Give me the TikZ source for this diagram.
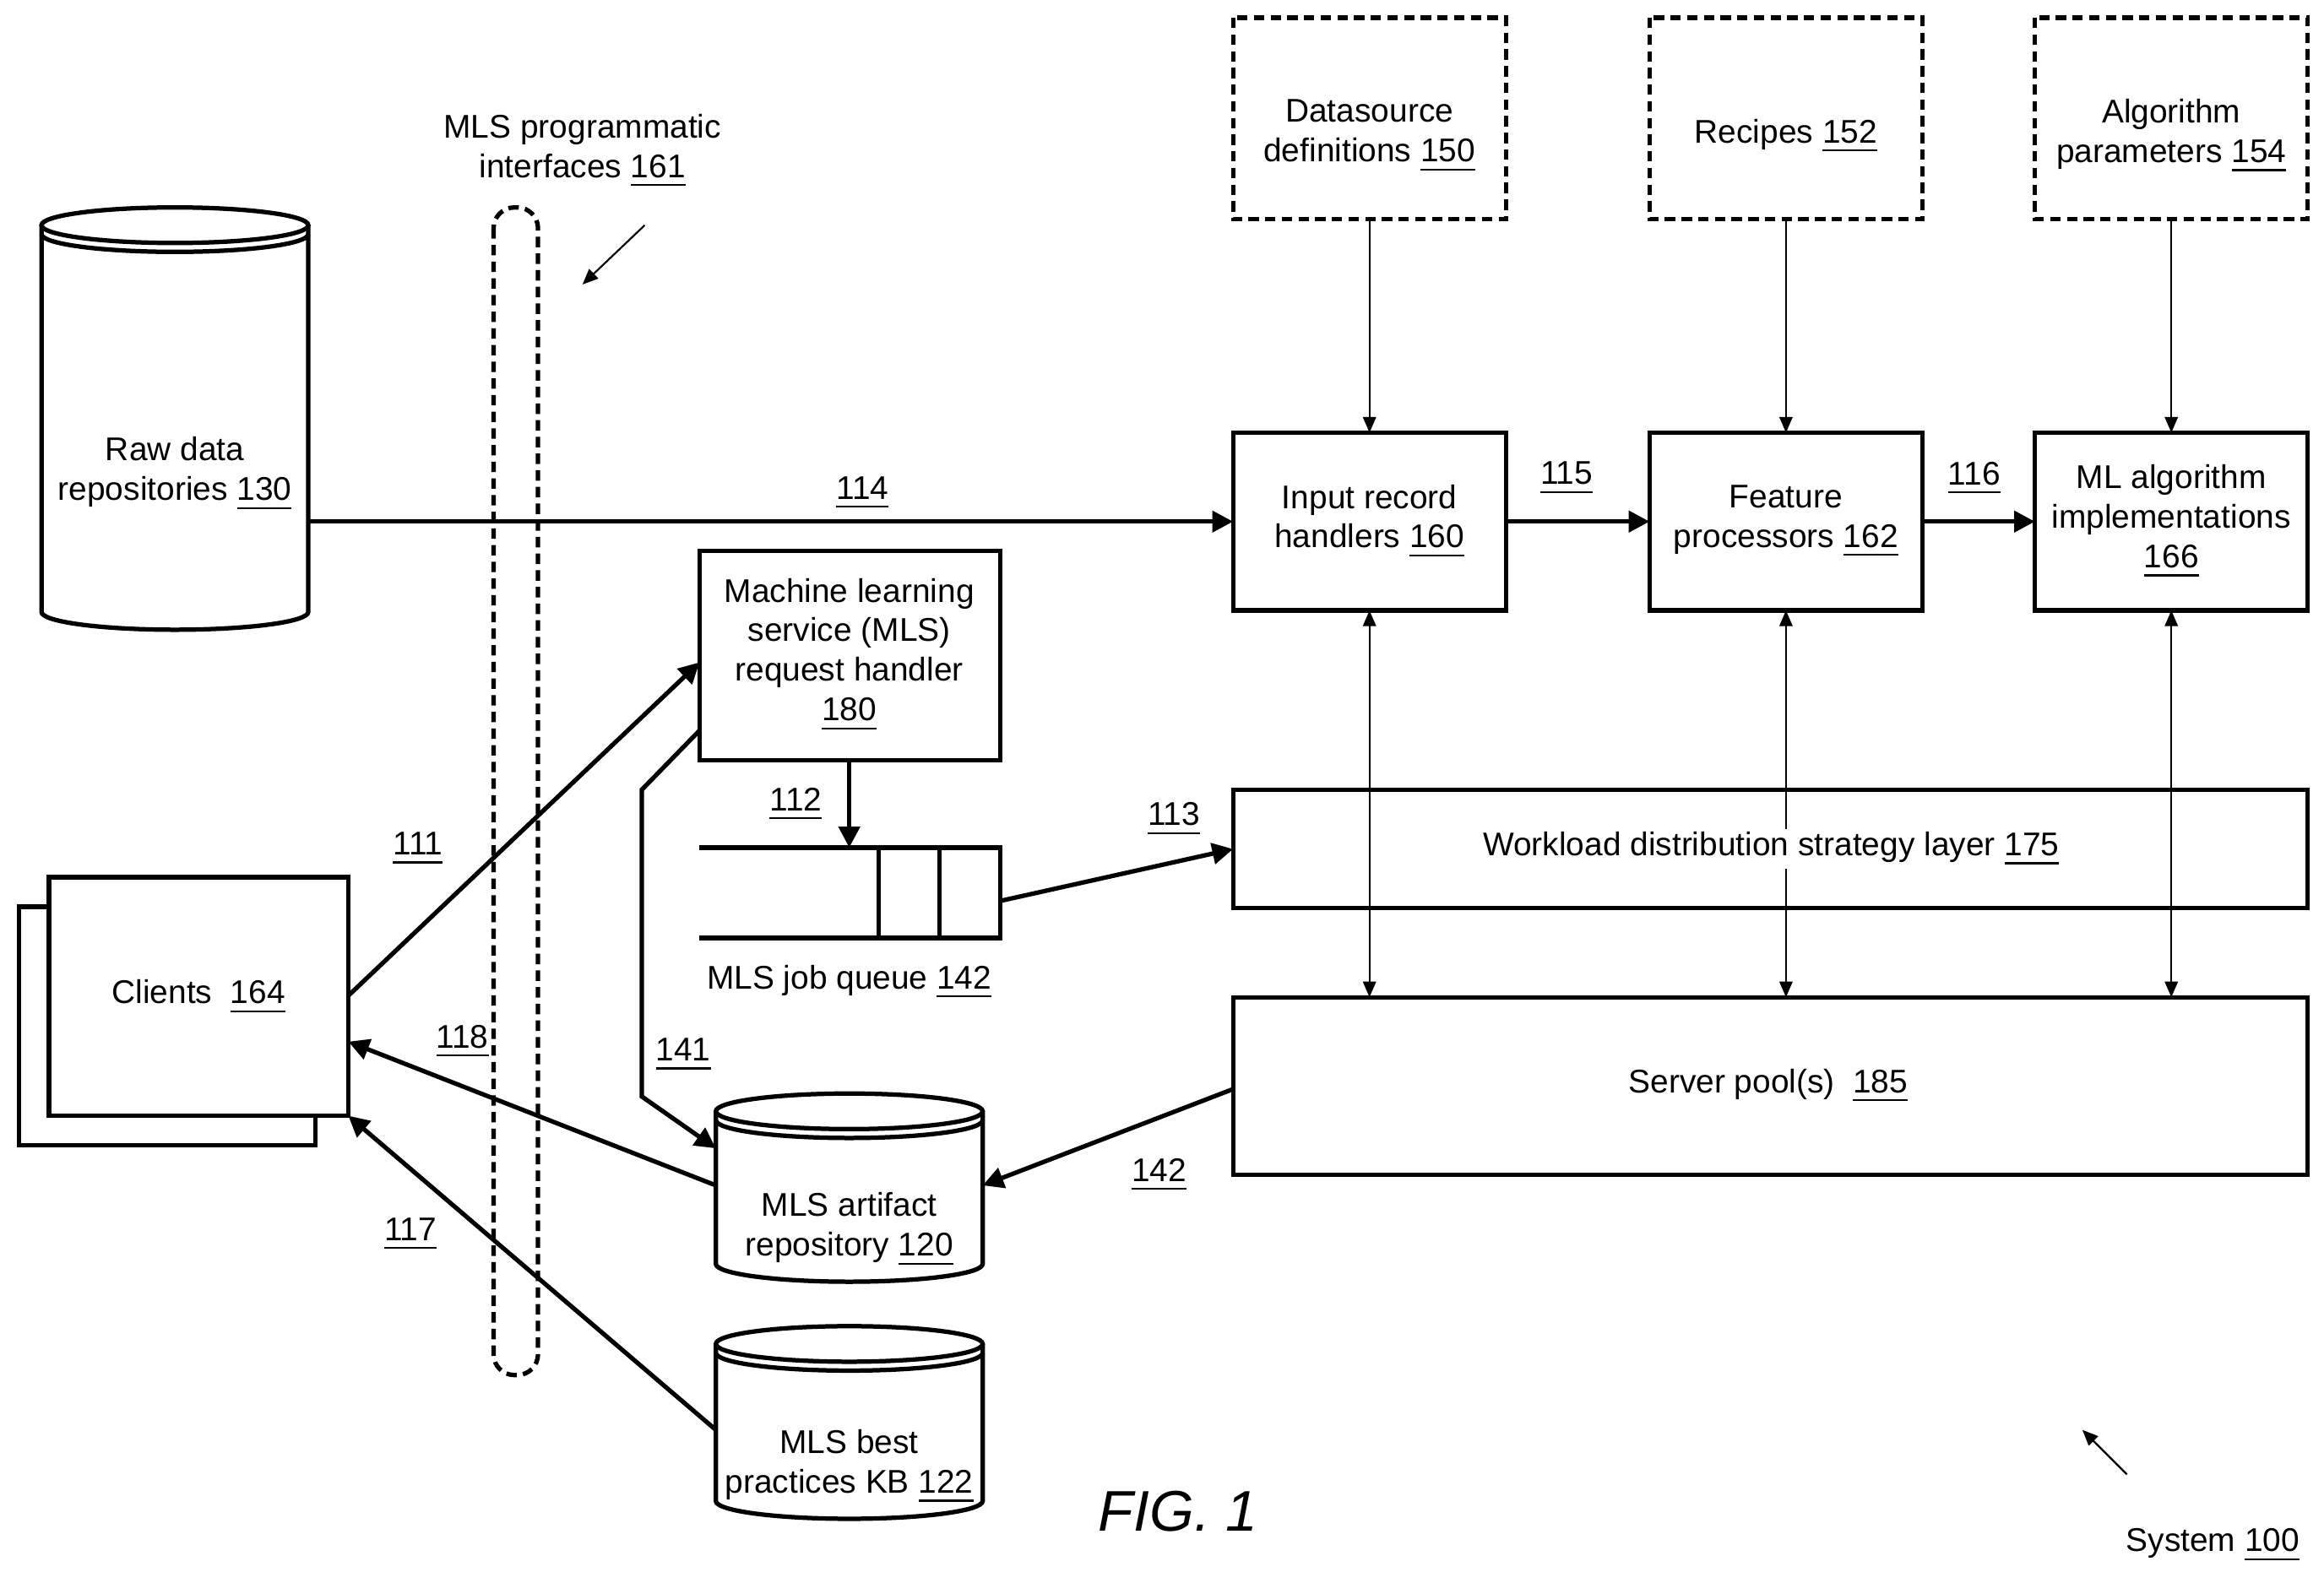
\documentclass[tikz,border=0pt]{standalone}
\usepackage{fontspec}
\setmainfont{Liberation Sans}
\usetikzlibrary{arrows.meta}
\newcommand{\un}[1]{\underline{#1}}
\begin{document}
\begin{tikzpicture}[x=0.01cm,y=-0.01cm,
 every node/.style={font=\fontsize{6.3}{7.6}\selectfont,align=center,inner sep=0pt},
 box/.style={draw,line width=0.85pt},
 dbox/.style={draw,line width=0.85pt,dash pattern=on 2pt off 1.2pt},
 ar/.style={line width=0.85pt,-{Triangle[length=4pt,width=4pt]}},
 thin2/.style={line width=0.35pt,{Triangle[length=3pt,width=2.5pt]}-{Triangle[length=3pt,width=2.5pt]}},
 thin1/.style={line width=0.35pt,-{Triangle[length=3pt,width=2.5pt]}}]
\useasboundingbox (0,0) rectangle (1568,1068);
% cylinders
\def\cyl#1#2#3#4{% x1 x2 ytop ybot
 \pgfmathsetmacro\cx{(#1+#2)/2}\pgfmathsetmacro\rx{(#2-#1)/2}
 \draw[line width=0.85pt,fill=white] (#1,#3) -- (#1,#4) arc[start angle=180,end angle=360,x radius=\rx,y radius=-12] -- (#2,#3);
 \draw[line width=0.85pt] (\cx,#3) ellipse[x radius=\rx,y radius=12];
 \draw[line width=0.85pt] (#1,#3+6) arc[start angle=180,end angle=360,x radius=\rx,y radius=-12];}
\cyl{28}{208}{152}{413}
\node (raw) at (118,320) {Raw data\\repositories \un{130}};
\cyl{483}{663}{750}{853}
\node (art) at (573,830) {MLS artifact\\repository \un{120}};
\cyl{483}{663}{907}{1013}
\node (kb) at (573,990) {MLS best\\practices KB \un{122}};
% interfaces
\draw[dbox,rounded corners=4pt] (333,140) rectangle (363,928);
\node at (393,102) {MLS programmatic\\interfaces \un{161}};
\draw[thin1] (435,152) -- (393,192);
% clients
\draw[box,fill=white] (13,612) rectangle (213,773);
\draw[box,fill=white] (33,592) rectangle (235,753);
\node (cl) at (134,673) {Clients\ \ \un{164}};
% handler
\draw[box] (472,372) rectangle (675,513);
\node (h) at (573,442) {Machine learning\\service (MLS)\\request handler\\\un{180}};
% queue
\draw[line width=0.85pt] (472,572) -- (675,572) (472,633) -- (675,633);
\draw[box] (593,572) rectangle (675,633) (634,572) -- (634,633);
\node (q) at (573,663) {MLS job queue \un{142}};
% top boxes
\foreach \x/\n/\t/\d in {832/in/Input record\\handlers \un{160}/Datasource\\definitions \un{150},
 1113/fp/Feature\\processors \un{162}/Recipes \un{152},
 1373/ml/ML algorithm\\implementations\\\un{166}/Algorithm\\parameters \un{154}}{
 \pgfmathsetmacro\xe{\x+184}\pgfmathsetmacro\xc{\x+92}
 \draw[box] (\x,292) rectangle (\xe,412);
 \node (\n) at (\xc,352) {\t};
 \draw[dbox] (\x,12) rectangle (\xe,148);
 \node at (\xc,92) {\d};
 \draw[thin1] (\xc,148) -- (\xc,292);
 \draw[thin2] (\xc,412) -- (\xc,673);
}
\draw[box] (832,533) rectangle (1557,613);
\node[fill=white,inner sep=0.5pt] (wl) at (1195,573) {Workload distribution strategy layer \un{175}};
\draw[box] (832,673) rectangle (1557,793);
\node (sp) at (1193,733) {Server pool(s)\ \ \un{185}};
% arrows
\draw[ar] (208,352) -- (832,352); \node at (582,333) {\un{114}};
\draw[ar] (1015,352) -- (1113,352); \node at (1057,323) {\un{115}};
\draw[ar] (1296,352) -- (1373,352); \node at (1332,323) {\un{116}};
\draw[ar] (573,513) -- (573,572); \node at (537,543) {\un{112}};
\draw[ar] (675,608) -- (832,573); \node at (792,553) {\un{113}};
\draw[ar] (235,672) -- (472,447); \node at (282,573) {\un{111}};
\draw[ar] (472,493) -- (433,533) -- (433,740) -- (483,775); \node at (461,712) {\un{141}};
\draw[ar] (483,800) -- (235,703); \node at (312,703) {\un{118}};
\draw[ar] (483,965) -- (235,753); \node at (277,833) {\un{117}};
\draw[ar] (832,735) -- (663,800); \node at (782,793) {\un{142}};
\node[font=\fontsize{11}{13}\selectfont\itshape] at (795,1020) {FIG. 1};
\node at (1493,1043) {System \un{100}};
\draw[thin1] (1435,995) -- (1405,965);
\end{tikzpicture}
\end{document}
